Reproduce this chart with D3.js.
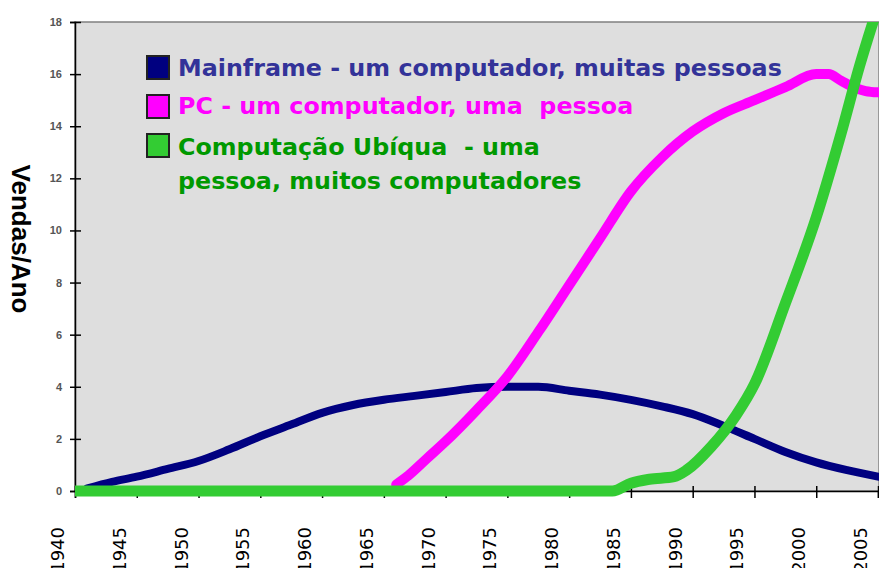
<!DOCTYPE html>
<html>
<head>
<meta charset="utf-8">
<script src="https://cdn.jsdelivr.net/npm/d3@7"></script>
<style>
  html, body { margin: 0; padding: 0; background: #fff; }
  svg { display: block; }
</style>
</head>
<body>
<div id="chart"></div>
<script>
// tick labels
const yearTicks = [1940, 1945, 1950, 1955, 1960, 1965, 1970, 1975, 1980, 1985, 1990, 1995, 2000, 2005];
const valueTicks = [0, 2, 4, 6, 8, 10, 12, 14, 16, 18];

// series (year, vendas/ano)
const mainframeYears = [1941, 1943, 1945, 1947.5, 1950, 1952.5, 1955, 1957.5, 1960, 1962.5, 1965, 1967.5, 1970, 1972.5, 1975, 1977.5, 1980, 1982.5, 1985, 1987.5, 1990, 1992.5, 1995, 1997.5, 2000, 2002.5, 2005];
const mainframeValues = [0.1, 0.35, 0.55, 0.85, 1.15, 1.6, 2.1, 2.55, 3.0, 3.3, 3.5, 3.65, 3.8, 3.95, 4.0, 4.0, 3.85, 3.7, 3.5, 3.25, 2.95, 2.5, 2.0, 1.5, 1.1, 0.8, 0.55];

const pcYears = [1966, 1967, 1968.5, 1970, 1972.5, 1975, 1977.5, 1980, 1982.5, 1985, 1987.5, 1990, 1992.5, 1995, 1997.5, 2000, 2001, 2002, 2003, 2004, 2005];
const pcValues = [0.25, 0.6, 1.25, 1.9, 3.1, 4.4, 6.1, 7.9, 9.7, 11.5, 12.8, 13.8, 14.5, 15.0, 15.5, 16.0, 16.0, 15.75, 15.5, 15.35, 15.3];

const ubiqYears = [1940, 1983.5, 1985, 1986.5, 1988.5, 1989.5, 1991.5, 1993.5, 1995, 1997.5, 2000, 2002, 2003.5, 2005];
const ubiqValues = [0, 0, 0.3, 0.45, 0.55, 0.8, 1.7, 2.9, 4.1, 7.2, 10.5, 13.7, 16.3, 18.6];

const seriesNames = ['Mainframe - um computador, muitas pessoas', 'PC - um computador, uma  pessoa', ['Computação Ubíqua  - uma', 'pessoa, muitos computadores']];
const seriesColors = ['#000080', '#ff00ff', '#33cc33'];
const textColors = ['#333399', '#ff00ff', '#009900'];

const width = 879, height = 568;
const margin = { top: 22, right: 1, bottom: 77, left: 75 };

const svg = d3.select('#chart').append('svg')
  .attr('width', width)
  .attr('height', height);

const x = d3.scaleLinear().domain([1940, 2005]).range([margin.left, width - 1]);
const y = d3.scaleLinear().domain([0, 18]).range([height - margin.bottom, margin.top]);

// plot area
svg.append('rect')
  .attr('x', x(1940)).attr('y', y(18))
  .attr('width', x(2005) - x(1940) + 1).attr('height', y(0) - y(18))
  .attr('fill', '#dedede')
  .attr('stroke', '#808080').attr('stroke-width', 1.5);

svg.append('defs').append('clipPath').attr('id', 'plot')
  .append('rect')
  .attr('x', x(1940)).attr('y', y(18))
  .attr('width', x(2005) - x(1940) + 2).attr('height', y(0) - y(18) + 8);

// axes
const xAxis = svg.append('g')
  .attr('transform', `translate(0,${y(0)})`)
  .call(d3.axisBottom(x).tickValues(yearTicks).tickSize(7).tickFormat(''));
xAxis.select('.domain').attr('stroke', '#000').attr('stroke-width', 1.5);
xAxis.selectAll('.tick line').attr('stroke', '#000').attr('stroke-width', 1.5).attr('y1', -5);

const yAxis = svg.append('g')
  .attr('transform', `translate(${x(1940)},0)`)
  .call(d3.axisLeft(y).tickValues(valueTicks).tickSize(5).tickFormat(''));
yAxis.select('.domain').attr('stroke', '#000').attr('stroke-width', 1.5);
yAxis.selectAll('.tick line').attr('stroke', '#000').attr('stroke-width', 1.5).attr('x1', -5).attr('x2', 6);

svg.append('g').selectAll('text')
  .data(valueTicks)
  .join('text')
  .attr('x', 62)
  .attr('y', (d) => y(d) + 4)
  .attr('text-anchor', 'end')
  .attr('font-family', 'Liberation Sans, Arial, sans-serif')
  .attr('font-weight', 'bold')
  .attr('font-size', 11)
  .attr('fill', '#555')
  .text((d) => d);

// year labels run off the bottom edge, as in the original slide
svg.append('g').selectAll('text')
  .data(yearTicks)
  .join('text')
  .attr('transform', (d) => `translate(${x(d) - 11},527) rotate(-90)`)
  .attr('text-anchor', 'end')
  .attr('font-family', 'DejaVu Sans, sans-serif')
  .attr('font-size', 18)
  .attr('fill', '#000')
  .text((d) => d);

svg.append('text')
  .attr('transform', 'translate(12,239) rotate(90)')
  .attr('text-anchor', 'middle')
  .attr('font-family', 'Liberation Sans, Arial, sans-serif')
  .attr('font-weight', 'bold')
  .attr('font-size', 26)
  .attr('fill', '#000')
  .text('Vendas/Ano');

// lines
const line = d3.line()
  .x((d) => x(d[0]))
  .y((d) => y(d[1]))
  .curve(d3.curveMonotoneX);

const series = [
  { years: mainframeYears, values: mainframeValues, width: 8 },
  { years: pcYears, values: pcValues, width: 10 },
  { years: ubiqYears, values: ubiqValues, width: 11 }
];

const lines = svg.append('g').attr('clip-path', 'url(#plot)');
series.forEach((s, i) => {
  lines.append('path')
    .datum(d3.zip(s.years, s.values))
    .attr('d', line)
    .attr('fill', 'none')
    .attr('stroke', seriesColors[i])
    .attr('stroke-width', s.width)
    .attr('stroke-linejoin', 'round')
    .attr('stroke-linecap', 'round');
});

// legend
const legendTop = [56, 95, 134];
const legendBase = [[76], [114], [155, 189]];
const legend = svg.append('g');
seriesNames.forEach((name, i) => {
  legend.append('rect')
    .attr('x', 147).attr('y', legendTop[i])
    .attr('width', 22).attr('height', 23)
    .attr('fill', seriesColors[i])
    .attr('stroke', '#222').attr('stroke-width', 2);
  const rows = Array.isArray(name) ? name : [name];
  rows.forEach((t, j) => {
    legend.append('text')
      .attr('x', 178)
      .attr('y', legendBase[i][j])
      .attr('font-family', 'DejaVu Sans, Verdana, sans-serif')
      .attr('font-weight', 'bold')
      .attr('font-size', 23.8)
      .attr('fill', textColors[i])
      .style('white-space', 'pre')
      .text(t);
  });
});
</script>
</body>
</html>
